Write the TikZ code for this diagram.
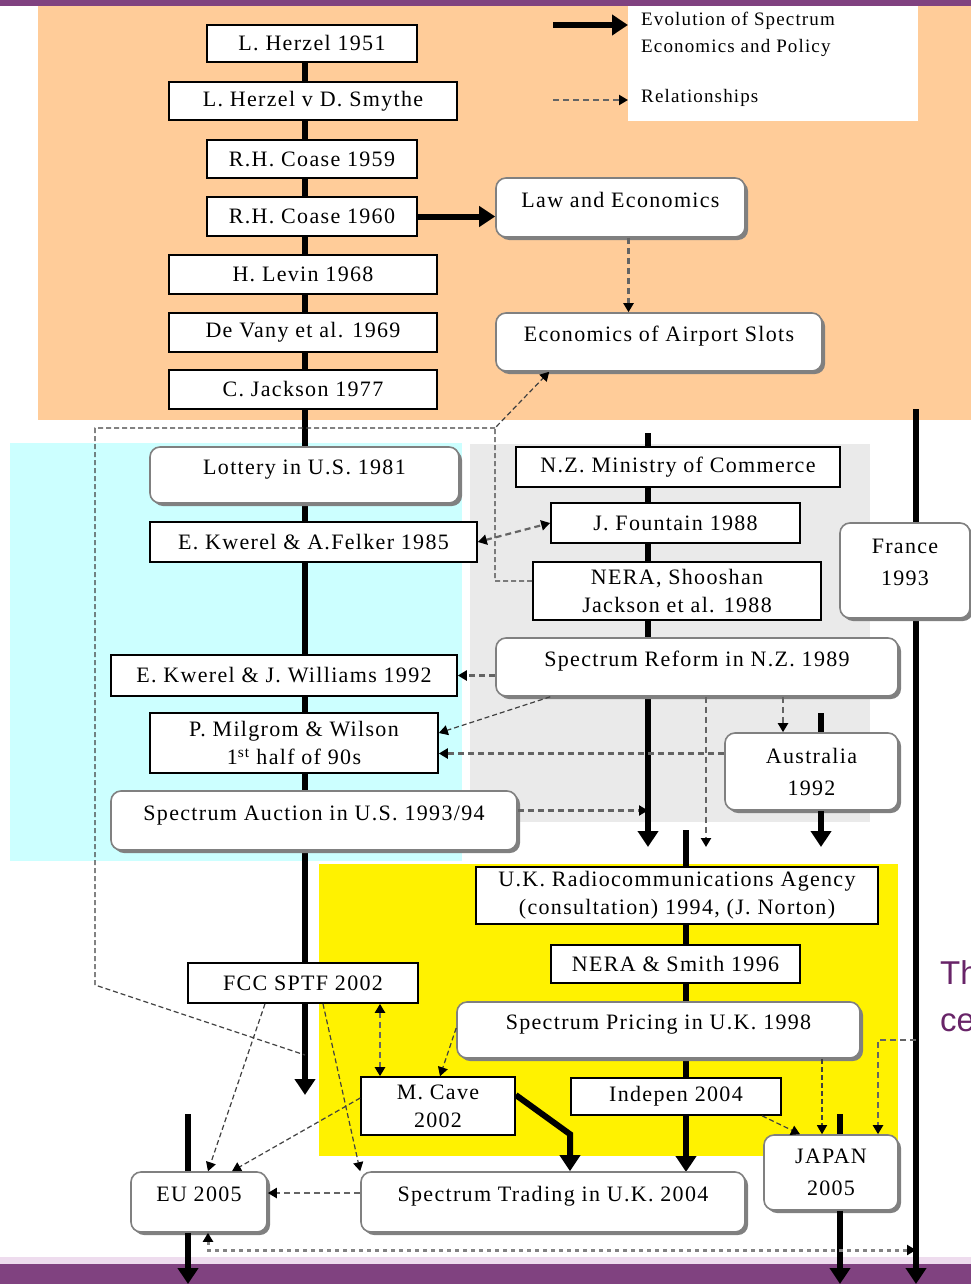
\documentclass[tikz,border=0pt]{standalone}
\usepackage{fontspec}
\setmainfont{Liberation Serif}[LetterSpace=6]
\newfontfamily\slidefont{Liberation Sans}
\usepackage{tikz}
\usetikzlibrary{arrows.meta, positioning, calc, shadows}
\definecolor{peach}{RGB}{255,204,153}
\definecolor{aqua}{RGB}{204,255,255}
\definecolor{paleg}{RGB}{234,234,234}
\definecolor{canary}{RGB}{255,242,0}
\definecolor{plum}{RGB}{128,66,128}
\definecolor{lavend}{RGB}{238,220,238}
\definecolor{relgray}{RGB}{100,100,100}
\definecolor{bordgray}{RGB}{128,128,128}
\definecolor{slidetxt}{RGB}{104,36,104}
\tikzset{
  reltip/.tip={Triangle[width=10pt,length=9pt,color=black]},
  evotip/.tip={Triangle[width=20pt,length=16pt]},
  wh/.style 2 args={minimum width=#1pt, minimum height=#2pt},
  sbox/.style={rectangle, draw=black, fill=white, line width=1.6pt,
    inner sep=0pt, align=center, font=\fontsize{22}{28}\selectfont},
  rbox/.style={sbox, draw=bordgray, rounded corners=10pt,
    drop shadow={shadow xshift=3pt, shadow yshift=-3pt, fill=bordgray, opacity=1}},
  rone/.style={rbox, text height=15.5pt, text depth=16pt},
  legtxt/.style={inner sep=0pt, align=left, font=\fontsize{19}{27}\selectfont},
  evol/.style={line width=6pt, black, -evotip},
  bar/.style={line width=6pt, black},
  rel/.style={line width=2.2pt, relgray, dash pattern=on 6pt off 4pt, -reltip},
  relthin/.style={line width=1.2pt, black!75, dash pattern=on 5pt off 3pt, -reltip},
  dotrel/.style={line width=3pt, relgray!80, dash pattern=on 4pt off 4pt, reltip-reltip}
}
\begin{document}
\begin{tikzpicture}[x=1pt, y=-1pt]
  \useasboundingbox (0,0) rectangle (971,1284);
  % slide backdrop and coloured eras
  \fill[white] (0,0) rectangle (971,1284);
  \fill[plum] (0,0) rectangle (971,6);
  \fill[lavend] (0,1257) rectangle (971,1264);
  \fill[plum] (0,1264) rectangle (971,1284);
  \fill[peach] (38,6) rectangle (971,420);
  \fill[aqua] (10,443) rectangle (462,861);
  \fill[paleg] (470,444) rectangle (870,822);
  \fill[canary] (319,864) rectangle (898,1156);
  \node[fill=white, wh={290}{115}, inner sep=0pt, anchor=north west] (legbox) at (628,6) {};
  \node[font=\fontsize{33}{47}\selectfont\slidefont, text=slidetxt, anchor=north west,
    align=left, inner sep=0pt] (cuttext) at (940,960) {Th\\ce};

  % time lines
  \coordinate (spA) at (305,43);
  \coordinate (spAend) at (305,1095);
  \coordinate (spAhit) at (305,1055);
  \coordinate (spB) at (648,433);
  \coordinate (spBend) at (648,847);
  \coordinate (spC) at (686,830);
  \coordinate (spCend) at (686,1172);
  \coordinate (spF) at (916,409);
  \coordinate (spFend) at (916,1284);
  \coordinate (spFjp) at (916,1040);
  \coordinate (spFeu) at (916,1250);
  \draw[evol] (spA) -- (spAend);
  \draw[evol] (spB) -- (spBend);
  \draw[evol] (spC) -- (spCend);
  \draw[evol] (spF) -- (spFend);

  \node[legtxt, anchor=west] (legevol) at (641,34) {Evolution of Spectrum\\Economics and Policy};
  \node[legtxt, anchor=west] (legrel) at (641,98) {Relationships};
  \coordinate (legA) at (553,25);
  \coordinate (legB) at (553,100);
  \draw[evol] (legA) -- (legA -| legbox.west);
  \draw[rel] (legB) -- (legB -| legbox.west);

  \node[sbox, wh={210}{37}] (herzel) at (312,43.5) {L. Herzel 1951};
  \node[sbox, wh={288}{38}] (smythe) at (313,101) {L. Herzel v D. Smythe};
  \node[sbox, wh={210}{38}] (coase59) at (312,159) {R.H. Coase 1959};
  \node[sbox, wh={210}{39}] (coase60) at (312,216.5) {R.H. Coase 1960};
  \node[sbox, wh={268}{39}] (levin) at (303,274.5) {H. Levin 1968};
  \node[sbox, wh={268}{39}] (devany) at (303,332.5) {De Vany et al. 1969};
  \node[sbox, wh={268}{39}] (jackson) at (303,389.5) {C. Jackson 1977};
  \node[rone, wh={309}{56}] (lottery) at (304.5,475) {Lottery in U.S. 1981};
  \node[sbox, wh={327}{40}] (felker) at (313.5,542) {E. Kwerel \& A.Felker 1985};
  \node[sbox, wh={346}{41}] (williams) at (284,675.5) {E. Kwerel \& J. Williams 1992};
  \node[sbox, wh={288}{60}] (milgrom) at (294,743) {P. Milgrom \& Wilson\\1\textsuperscript{st} half of 90s};
  \node[rone, wh={406}{59}] (auction) at (314,820.5) {Spectrum Auction in U.S. 1993/94};
  \node[sbox, wh={230}{40}] (fcc) at (303,983) {FCC SPTF 2002};

  \node[rone, wh={249}{59}] (lawecon) at (620.5,207.5) {Law and Economics};
  \node[rone, wh={326}{58}] (airport) at (659,342) {Economics of Airport Slots};
  \draw[evol] (coase60.east) -- (coase60.east -| lawecon.west);
  \draw[rel] ([xshift=8pt]lawecon.south) -- ([xshift=8pt]lawecon.south |- airport.north);

  \node[sbox, wh={324}{40}] (nzmin) at (678,467) {N.Z. Ministry of Commerce};
  \node[sbox, wh={249}{40}] (fountain) at (675.5,523) {J. Fountain 1988};
  \node[sbox, wh={288}{58}] (nera) at (677,591) {NERA, Shooshan\\Jackson et al. 1988};
  \node[rone, wh={402}{58}] (nzreform) at (697,667) {Spectrum Reform in N.Z. 1989};
  \node[rbox, wh={173}{77}] (australia) at (811.5,771.5) {Australia\\[4pt]1992};
  \node[rbox, wh={130}{95}] (france) at (905,570.5) {France\\[4pt]1993\\[-12pt]\mbox{}};

  \node[sbox, wh={402}{57}] (ukra) at (677,895.5) {U.K. Radiocommunications Agency\\(consultation) 1994, (J. Norton)};
  \node[sbox, wh={249}{38}] (nerasmith) at (675.5,964) {NERA \& Smith 1996};
  \node[rone, wh={403}{56}] (pricing) at (658.5,1030) {Spectrum Pricing in U.K. 1998};
  \node[sbox, wh={210}{37}] (indepen) at (676,1096.5) {Indepen 2004};
  \node[sbox, wh={154}{58}] (cave) at (438,1106) {M. Cave\\2002};
  \node[rone, wh={384}{60}] (trading) at (553,1202) {Spectrum Trading in U.K. 2004};
  \node[rone, wh={136}{60}] (eu) at (199,1202) {EU 2005};
  \node[rbox, wh={134}{75}] (japan) at (831,1172.5) {JAPAN\\[4pt]2005};

  \draw[bar] ([xshift=9.5pt, yshift=19pt]australia.north) -- ([xshift=9.5pt]australia.north);
  \draw[evol] ([xshift=9.5pt]australia.south) -- ([xshift=9.5pt]australia.south |- spBend);
  \draw[bar] ([xshift=-11pt, yshift=57pt]eu.north) -- ([xshift=-11pt]eu.north);
  \draw[evol] ([xshift=-11pt]eu.south) -- ([xshift=-11pt]eu.south |- spFend);
  \draw[bar] ([xshift=9pt, yshift=20pt]japan.north) -- ([xshift=9pt]japan.north);
  \draw[evol] ([xshift=9pt]japan.south) -- ([xshift=9pt]japan.south |- spFend);
  \draw[evol] ([yshift=11pt]cave.east) -- ([xshift=17pt, yshift=37pt]trading.north) -- ([xshift=17pt]trading.north);

  % relationships
  \draw[rel, reltip-reltip] (felker.east) -- (fountain.west);
  \coordinate (loopc) at (495,428);
  \draw[relthin] ([yshift=10pt]nera.west) -| (loopc) -- ([xshift=54pt]airport.south west);
  \draw[relthin, -] (loopc) -- ++(-400,0) -- ++(0,557) -- (spAhit);
  \draw[rel] (nzreform.west |- williams.east) -- (williams.east);
  \draw[relthin] ([xshift=55pt]nzreform.south west) -- ([yshift=10pt]milgrom.east);
  \draw[rel] ([yshift=18pt]australia.west) -- ([yshift=18pt]australia.west -| milgrom.east);
  \draw[rel] ([yshift=10pt]auction.east) -- ([yshift=10pt]auction.east -| spB);
  \draw[rel] ([xshift=86pt]nzreform.south) -- ([xshift=86pt]nzreform.south |- australia.north);
  \draw[rel] ([xshift=9pt]nzreform.south) -- ([xshift=9pt]nzreform.south |- spBend);

  \draw[rel, reltip-reltip] ([xshift=77pt]fcc.south) -- ([xshift=77pt]fcc.south |- cave.north);
  \draw[relthin] ([xshift=-38pt]fcc.south) -- ([xshift=9pt]eu.north);
  \draw[relthin] ([xshift=20pt]fcc.south) -- (trading.north west);
  \draw[relthin] ([yshift=8pt]cave.west) -- ([xshift=33pt]eu.north);
  \draw[relthin] ([yshift=2pt]pricing.west) -- ([xshift=2pt]cave.north);
  \draw[relthin] ([xshift=163.5pt]pricing.south) -- ([xshift=163.5pt]pricing.south |- japan.north);
  \draw[relthin] ([xshift=86pt]indepen.south) -- ([xshift=-31pt]japan.north);
  \draw[rel] (spFjp) -| ([xshift=47pt]japan.north);
  \draw[rel] ([yshift=9pt]trading.west) -- ([yshift=9pt]trading.west -| eu.east);
  \draw[dotrel] ([xshift=9pt]eu.south) |- (spFeu);
\end{tikzpicture}
\end{document}
